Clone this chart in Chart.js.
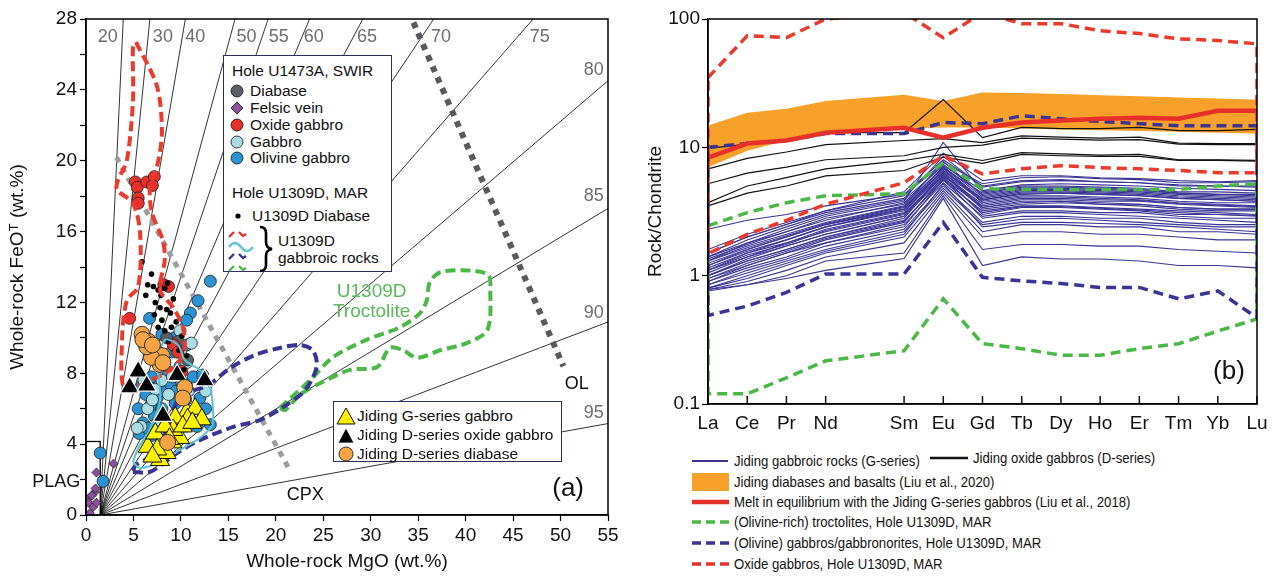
<!DOCTYPE html>
<html>
<head>
<meta charset="utf-8">
<script src="https://cdn.jsdelivr.net/npm/chart.js@4.4.1/dist/chart.umd.min.js"></script>
<style>
body { margin: 0; background: #fff; font-family: "Liberation Sans", Arial, sans-serif; }
#wrap { position: relative; width: 1278px; height: 577px; overflow: hidden; }
#left { position: absolute; left: 0; top: 0; width: 640px; height: 577px; }
#right { position: absolute; left: 640px; top: 0; width: 638px; height: 445px; }
.box { position: absolute; background: #fff; border: 1.5px solid #2d2d5a; box-sizing: border-box; }
.t { position: absolute; white-space: nowrap; line-height: 18px; font-size: 15.5px; color: #111; }
.lg { position: absolute; white-space: nowrap; line-height: 18px; font-size: 14px; color: #111; transform: scaleX(0.94); transform-origin: left center; }
svg { position: absolute; overflow: visible; }
</style>
</head>
<body>
<div id="wrap">
  <div id="left"><canvas id="chartA"></canvas></div>
  <div id="right"><canvas id="chartB"></canvas></div>

  <!-- legend box, panel (a) upper -->
  <div class="box" style="left:223px;top:55px;width:169px;height:217px;">
    <svg width="60" height="217" style="left:0;top:0">
      <circle cx="13" cy="35" r="6" fill="#5d5e62" stroke="#111" stroke-width="0.8"/>
      <polygon points="13,46 19,52 13,58 7,52" fill="#8e4f9f" stroke="#111" stroke-width="0.8"/>
      <circle cx="13" cy="69" r="6" fill="#e8302a" stroke="#111" stroke-width="0.8"/>
      <circle cx="13" cy="86" r="6" fill="#a9dde3" stroke="#111" stroke-width="0.8"/>
      <circle cx="13" cy="102" r="6" fill="#2b93d3" stroke="#111" stroke-width="0.8"/>
      <circle cx="14" cy="160" r="2.6" fill="#000"/>
      <path d="M5,181 L10,176 M15,176 L19,180 L22,178" stroke="#e8302a" stroke-width="2.4" fill="none"/>
      <path d="M5,191 q6,-8 12,0 t12,0" stroke="#6cc6d4" stroke-width="2.6" fill="none"/>
      <path d="M5,203 L10,198 M15,198 L19,202 L22,200" stroke="#3a3594" stroke-width="2.4" fill="none"/>
      <path d="M5,215 L10,210 M15,210 L19,214 L22,212" stroke="#4cb848" stroke-width="2.4" fill="none"/>
      <path d="M36,171 q6,0 6,6 v9 q0,6 6,7 q-6,1 -6,7 v9 q0,6 -6,6" stroke="#000" stroke-width="2.6" fill="none"/>
    </svg>
    <div class="t" style="left:8px;top:6px">Hole U1473A, SWIR</div>
    <div class="t" style="left:26px;top:26px">Diabase</div>
    <div class="t" style="left:26px;top:43px">Felsic vein</div>
    <div class="t" style="left:26px;top:60px">Oxide gabbro</div>
    <div class="t" style="left:26px;top:77px">Gabbro</div>
    <div class="t" style="left:26px;top:93px">Olivine gabbro</div>
    <div class="t" style="left:8px;top:128px">Hole U1309D, MAR</div>
    <div class="t" style="left:28px;top:151px">U1309D Diabase</div>
    <div class="t" style="left:54px;top:176px">U1309D</div>
    <div class="t" style="left:54px;top:193px">gabbroic rocks</div>
  </div>

  <!-- legend box, panel (a) lower -->
  <div class="box" style="left:333px;top:401px;width:229px;height:61px;">
    <svg width="30" height="61" style="left:0;top:0">
      <polygon points="12,6 3,22 21,22" fill="#fff200" stroke="#111" stroke-width="1"/>
      <polygon points="12,26 4,41 20,41" fill="#000" stroke="#fff" stroke-width="0.8"/>
      <circle cx="12" cy="52" r="7" fill="#f6a443" stroke="#333" stroke-width="1"/>
    </svg>
    <div class="t" style="left:23px;top:5px">Jiding G-series gabbro</div>
    <div class="t" style="left:23px;top:24px">Jiding D-series oxide gabbro</div>
    <div class="t" style="left:23px;top:43px">Jiding D-series diabase</div>
  </div>

  <!-- legend, panel (b) -->
  <svg width="300" height="130" style="left:688px;top:447px">
    <line x1="4" y1="14" x2="40" y2="14" stroke="#3a3594" stroke-width="2"/>
    <line x1="242" y1="11" x2="280" y2="11" stroke="#111" stroke-width="2.5"/>
    <rect x="4" y="26" width="37" height="18" fill="#f7a12a"/>
    <line x1="4" y1="55" x2="41" y2="55" stroke="#e8302a" stroke-width="4.5"/>
    <line x1="4" y1="75" x2="41" y2="75" stroke="#4cb848" stroke-width="3.5" stroke-dasharray="9,5"/>
    <line x1="4" y1="96" x2="41" y2="96" stroke="#3a3594" stroke-width="3.5" stroke-dasharray="9,5"/>
    <line x1="4" y1="117" x2="41" y2="117" stroke="#e8302a" stroke-width="3.5" stroke-dasharray="9,5"/>
  </svg>
  <div class="lg" style="left:734px;top:452px">Jiding gabbroic rocks (G-series)</div>
  <div class="lg" style="left:973px;top:449px">Jiding oxide gabbros (D-series)</div>
  <div class="lg" style="left:734px;top:473px">Jiding diabases and basalts (Liu et al., 2020)</div>
  <div class="lg" style="left:734px;top:493px">Melt in equilibrium with the Jiding G-series gabbros (Liu et al., 2018)</div>
  <div class="lg" style="left:734px;top:513px">(Olivine-rich) troctolites, Hole U1309D, MAR</div>
  <div class="lg" style="left:734px;top:534px">(Olivine) gabbros/gabbronorites, Hole U1309D, MAR</div>
  <div class="lg" style="left:734px;top:555px">Oxide gabbros, Hole U1309D, MAR</div>
</div>

<script>
// ---------- panel (a): FeOT vs MgO ----------
const mgNumbers = [20, 30, 40, 50, 55, 60, 65, 70, 75, 80, 85, 90, 95];

const olGabbroU1473 = [[1.5,3.5],[1.8,1.9],[13.1,13.2],[11.8,12.1],[11.0,11.4],[10.6,11.0],[6.7,11.1],[8.0,10.2],
  [9.3,10.0],[10.6,9.6],[9.0,9.2],[5.9,7.3],[6.3,6.8],[6.8,6.2],[5.5,6.0],[6.0,5.2],[5.6,4.6],[6.5,4.9],[7.2,5.6],
  [7.5,6.6],[8.2,7.0],[8.9,7.4],[9.5,7.0],[10.0,7.6],[10.6,7.3],[11.3,7.8],[12.3,7.9],[12.0,6.6],[12.6,6.0],
  [13.1,5.1],[11.7,5.0],[7.4,7.4],[6.9,7.8],[8.6,8.1],[9.9,8.4],[8.0,6.0],[7.0,4.5],[9.4,6.3],[10.5,6.5],[8.4,5.3]];
const gabbroU1473 = [[5.8,5.0],[6.5,6.0],[7.3,7.1],[8.0,7.6],[8.7,6.8],[9.1,7.8],[7.6,5.3],[10.6,8.6],[9.9,10.4],
  [11.1,9.7],[12.6,7.0],[6.1,7.6],[7.0,6.5],[8.4,4.4],[5.4,4.9],[10.8,7.0],[9.6,9.2]];
const diabaseU1473 = [[9.7,9.8],[10.7,8.75],[8.5,10.0]];
const oxideU1473 = [[5.2,18.8],[5.4,18.5],[6.4,18.8],[5.5,17.9],[5.5,17.6],[7.2,19.1],[7.0,18.6],[8.2,13.0],
  [8.7,12.9],[4.6,11.1],[10.1,8.1],[9.2,9.6],[9.7,9.2]];
const felsicU1473 = [[0.3,0.95],[1.1,2.4],[2.9,2.9],[0.95,1.3],[0.4,0.1],[0.25,0.7],[0.75,0.45],[1.1,0.7],[0.6,1.1],[1.0,1.5]];
const diabaseU1309 = [[5.9,14.3],[6.5,13.0],[7.1,12.9],[7.6,12.7],[7.9,12.4],[8.3,12.8],[7.3,12.0],[7.8,11.7],
  [8.5,11.6],[8.0,11.0],[8.9,11.4],[7.6,10.6],[8.3,10.4],[9.0,10.6],[9.5,10.9],[8.7,9.8],[7.0,10.0],[9.8,9.3],
  [10.6,9.0],[10.3,8.2],[7.4,9.1],[6.9,13.6],[8.6,13.1],[9.2,12.2],[6.3,12.4],[7.2,11.3],[10.1,10.1]];
const jidingG = [[6.5,3.85],[7.8,3.1],[8.1,3.8],[9.1,4.1],[9.7,5.0],[10.6,5.8],[11.5,6.0],[12.2,5.4],[9.9,4.35],
  [9.4,5.5],[8.5,3.5],[7.3,4.6],[9.2,4.8],[10.7,5.4],[10.2,5.0],[11.2,5.2],[8.3,5.0],[7.5,3.7],[7.0,3.3],[8.8,4.3]];
const jidingDoxide = [[5.5,8.1],[4.6,7.2],[6.4,7.3],[8.1,5.6],[9.6,7.9],[12.5,7.6]];
const jidingDdiabase = [[5.9,10.2],[6.6,9.8],[7.3,9.2],[8.0,9.0],[7.8,8.5],[6.9,8.9],[6.4,9.5],[6.0,9.9],
  [7.0,9.6],[8.1,8.6],[10.4,7.2],[10.2,6.6],[8.6,4.1]];

// U1309D fields (outlines)
const oxideField = [[5.27,26.7],[7.48,24.2],[8.0,21.6],[7.48,19.65],[6.74,18.5],[6.95,17.05],[8.1,15.5],[8.3,14.4],
  [7.8,12.7],[9.2,11.7],[10.2,10.6],[10.4,9.5],[9.9,8.75],[8.6,8.1],[6.74,7.6],[4.1,7.06],[3.8,9.9],[4.3,12.1],
  [5.5,12.9],[5.7,15.9],[4.95,17.6],[3.27,18.35],[3.37,18.9],[4.3,20.0],[4.95,23.4],[4.95,26.4],[5.27,26.7]];
const gabbroField = [[4.95,2.99],[5.69,2.65],[7.8,2.99],[9.9,3.67],[12.0,4.35],[13.3,5.08],[13.3,6.49],[12.9,7.62],
  [12.0,8.19],[10.4,8.75],[9.7,9.6],[8.3,9.88],[7.6,8.47],[7.8,6.49],[6.7,4.8],[5.5,3.78],[4.95,2.99]];
const olGabbroField = [[4.95,2.43],[6.74,2.43],[9.6,3.5],[12.0,4.23],[15.5,4.97],[18.3,5.36],[20.8,6.1],[23.1,7.06],
  [24.3,8.36],[23.9,9.3],[22.5,9.6],[20.4,9.43],[17.8,9.03],[15.2,8.3],[12.9,7.34],[11.0,6.95],[9.7,6.5],[8.85,5.36],
  [7.8,3.95],[6.2,3.1],[5.2,2.8],[4.95,2.43]];
const troctField = [[20.4,6.04],[23.6,7.6],[26.0,8.9],[29.6,9.9],[33.1,10.6],[35.2,11.4],[35.9,12.1],[36.2,13.1],
  [37.3,13.7],[40.5,13.8],[42.4,13.55],[42.6,12.7],[42.3,10.45],[40.1,9.7],[37.3,9.3],[34.9,8.87],[33.4,9.3],
  [32.0,9.43],[30.7,8.36],[27.8,8.19],[24.7,7.45],[22.5,6.78],[21.0,5.93],[20.4,6.04]];
const cpxTrend = [[3.2,20.2],[21.5,2.5]];
const olTrend = [[34.5,27.8],[50.3,8.4]];

// ---------- panel (b): REE ----------
const ree = ['La','Ce','Pr','Nd','Sm','Eu','Gd','Tb','Dy','Ho','Er','Tm','Yb','Lu'];
const reePos = [0, 1, 2, 3, 5, 6, 7, 8, 9, 10, 11, 12, 13, 14];

const gSeries = [
  [2.3,2.7,3.0,3.5,4.3,8.0,5.0,5.5,5.6,5.4,5.3,5.1,5.0,5.0],
  [1.6,2.1,2.6,3.2,4.2,7.6,5.2,5.8,5.9,5.7,5.6,5.3,5.3,5.4],
  [1.5,2.0,2.5,3.1,4.0,8.5,4.9,5.4,5.5,5.4,5.3,5.0,5.0,4.9],
  [1.4,1.9,2.4,3.0,3.9,7.2,4.6,5.1,5.2,5.1,5.0,4.8,4.7,4.6],
  [1.4,1.8,2.3,2.9,3.8,10.9,4.5,5.0,5.0,4.9,4.8,4.5,4.5,4.4],
  [1.3,1.8,2.2,2.8,3.6,6.9,4.4,4.9,4.9,4.8,4.7,4.4,4.3,4.3],
  [1.3,1.7,2.1,2.6,3.5,7.8,4.2,4.7,4.7,4.6,4.5,4.3,4.2,4.1],
  [1.25,1.6,2.0,2.5,3.4,6.6,4.0,4.5,4.5,4.4,4.3,4.1,4.0,3.9],
  [1.2,1.6,2.0,2.5,3.3,7.0,3.9,4.3,4.4,4.3,4.2,4.0,3.9,3.8],
  [1.15,1.5,1.9,2.4,3.2,6.3,3.8,4.2,4.2,4.1,4.0,3.8,3.7,3.7],
  [1.1,1.5,1.8,2.3,3.1,6.8,3.7,4.1,4.1,4.0,3.9,3.7,3.6,3.5],
  [1.1,1.4,1.8,2.2,3.0,6.0,3.5,3.9,3.9,3.8,3.8,3.6,3.5,3.4],
  [1.05,1.4,1.7,2.1,2.9,5.8,3.4,3.8,3.8,3.7,3.6,3.4,3.3,3.3],
  [1.0,1.3,1.6,2.0,2.8,6.2,3.3,3.6,3.7,3.6,3.5,3.3,3.2,3.2],
  [1.0,1.3,1.6,2.0,2.7,5.5,3.2,3.5,3.5,3.4,3.3,3.2,3.1,3.0],
  [0.95,1.2,1.5,1.9,2.6,5.9,3.0,3.4,3.4,3.3,3.2,3.0,3.0,2.9],
  [0.9,1.2,1.5,1.8,2.5,5.3,2.9,3.2,3.2,3.1,3.1,2.9,2.8,2.8],
  [0.9,1.15,1.4,1.8,2.4,5.6,2.8,3.1,3.1,3.0,2.9,2.8,2.7,2.6],
  [0.85,1.1,1.35,1.7,2.3,5.0,2.6,2.9,2.9,2.8,2.8,2.6,2.5,2.5],
  [0.85,1.05,1.3,1.6,2.2,4.8,2.5,2.75,2.8,2.7,2.6,2.5,2.4,2.4],
  [0.8,1.0,1.25,1.55,2.1,5.2,2.4,2.6,2.6,2.55,2.5,2.4,2.3,2.2],
  [0.8,0.95,1.2,1.5,2.0,4.6,2.2,2.5,2.5,2.4,2.4,2.2,2.2,2.1],
  [0.78,0.9,1.1,1.4,1.8,4.4,2.0,2.2,2.2,2.1,2.1,2.0,1.9,1.9],
  [0.76,0.85,1.0,1.3,1.5,4.2,1.6,1.75,1.75,1.7,1.7,1.6,1.55,1.5],
  [0.78,0.85,0.95,1.1,1.36,4.0,1.2,1.4,1.35,1.35,1.3,1.2,1.2,1.15],
  [1.5,2.0,2.5,3.2,4.5,9.0,5.5,6.0,6.0,5.8,5.7,5.5,5.4,5.5],
  [1.35,1.75,2.2,2.7,3.7,7.4,4.3,4.8,4.8,4.7,4.6,4.4,4.3,4.2],
  [1.2,1.55,1.9,2.4,3.3,6.5,3.9,4.4,4.4,4.3,4.2,4.0,3.9,3.8],
  [1.0,1.35,1.7,2.1,2.9,6.4,3.4,3.7,3.8,3.6,3.6,3.4,3.3,3.3],
  [1.3,1.65,2.05,2.55,3.45,7.1,4.1,4.6,4.6,4.5,4.4,4.2,4.1,4.0],
  [1.1,1.45,1.75,2.25,3.05,6.1,3.6,4.0,4.0,3.9,3.85,3.65,3.55,3.45],
  [0.95,1.25,1.55,1.95,2.65,5.7,3.1,3.45,3.45,3.35,3.25,3.1,3.0,2.95]
];
const dSeries = [
  [9.8,10.6,11.3,13.0,13.0,23.6,11.9,14.3,14.0,14.0,14.3,13.5,13.5,13.8],
  [6.8,8.2,9.2,10.5,11.3,11.7,10.9,12.3,12.0,11.8,12.0,10.8,10.7,10.7],
  [5.2,6.3,7.0,8.0,8.6,10.0,10.4,11.8,11.6,11.4,11.5,10.6,10.5,10.5],
  [3.7,5.0,5.8,6.8,7.9,8.8,7.9,9.1,8.9,8.7,8.8,8.0,8.0,7.9],
  [3.5,4.4,5.0,6.0,6.6,8.4,7.5,8.8,8.6,8.5,8.5,7.9,7.9,7.8]
];
const diabaseUpper = [14.8,18.6,20.0,23.0,25.7,23.0,26.7,26.5,26.0,25.5,25.0,24.5,24.0,23.5];
const diabaseLower = [7.0,9.4,11.3,13.0,14.0,14.3,14.3,14.0,13.8,13.6,13.4,13.2,13.0,12.8];
const meltG = [8.3,10.7,11.3,13.0,14.2,11.9,14.2,15.6,16.2,16.7,17.0,16.7,19.3,19.3];
const oxU1309Upper = [34.9,74,71.6,100,112,71.6,112,92,92,81,77,70,68,64];
const oxU1309Lower = [1.48,2.1,2.7,3.6,5.3,8.6,6.2,6.8,7.2,6.95,6.8,6.6,6.35,6.35];
const olgU1309Upper = [10,10.7,11.3,12.8,12.8,15.6,15.3,17.6,16.7,15.9,15.3,14.7,14.7,14.7];
const olgU1309Lower = [0.49,0.58,0.74,1.03,1.03,2.6,0.97,0.91,0.87,0.81,0.81,0.66,0.76,0.47];
const troU1309Upper = [2.45,3.1,3.7,4.2,4.35,7.6,4.76,4.7,4.7,4.7,4.7,4.7,5.0,5.2];
const troU1309Lower = [0.12,0.12,0.16,0.217,0.26,0.66,0.295,0.27,0.24,0.24,0.27,0.295,0.37,0.46];

// ---------- helpers ----------
const FONT = '"Liberation Sans", Arial, sans-serif';
Chart.defaults.font.family = FONT;
Chart.defaults.color = '#111';
Chart.defaults.animation = false;

const xy = a => a.map(p => ({x: p[0], y: p[1]}));
const reeXY = vals => vals.map((v, i) => ({x: reePos[i], y: v}));
const envelope = (up, lo) => {
  const u = reeXY(up);
  return [...u, ...reeXY(lo).reverse(), u[0]];
};

function mgLine(m) {
  // FeO/MgO ratio (wt%) for a given Mg#
  const k = (71.85 / 40.3) * (100 - m) / m;
  const end = k * 55 > 28 ? {x: 28 / k, y: 28} : {x: 55, y: 55 * k};
  return [{x: 1.5, y: 0}, end];
}

const frame = {
  id: 'frame',
  afterDatasetsDraw(chart) {
    const a = chart.chartArea, ctx = chart.ctx;
    ctx.save();
    ctx.strokeStyle = '#000';
    ctx.lineWidth = 1.5;
    ctx.strokeRect(a.left, a.top, a.right - a.left, a.bottom - a.top);
    ctx.restore();
  }
};

function label(ctx, x, y, text, size, color, align) {
  ctx.font = size + 'px ' + FONT;
  ctx.fillStyle = color;
  ctx.textAlign = align || 'center';
  ctx.textBaseline = 'middle';
  ctx.fillText(text, x, y);
}

// label anchors for panel (a), data units
const mgLabelAt = [[2.3,27],[8.1,27],[11.5,27],[16.9,27],[20.3,27],[24.0,27],[29.6,27],[37.4,27],[47.8,27],
  [53.5,25.1],[53.5,18.0],[53.5,11.4],[53.5,5.76]];

const panelA = {
  id: 'panelA',
  beforeDatasetsDraw(chart) {
    const {ctx, scales: {x, y}} = chart;
    ctx.save();
    const x0 = x.getPixelForValue(0), x1 = x.getPixelForValue(1.5);
    const y0 = y.getPixelForValue(0), y1 = y.getPixelForValue(4.15);
    ctx.fillStyle = '#fff';
    ctx.fillRect(x0, y1, x1 - x0, y0 - y1);
    ctx.strokeStyle = '#000';
    ctx.lineWidth = 1.3;
    ctx.strokeRect(x0, y1, x1 - x0, y0 - y1);
    ctx.restore();
  },
  afterDatasetsDraw(chart) {
    const {ctx, scales: {x, y}} = chart;
    ctx.save();
    mgNumbers.forEach((m, i) => {
      label(ctx, x.getPixelForValue(mgLabelAt[i][0]), y.getPixelForValue(mgLabelAt[i][1]), String(m), 18, '#6d6e71');
    });
    label(ctx, x.getPixelForValue(23.1), y.getPixelForValue(1.13), 'CPX', 18, '#111');
    label(ctx, x.getPixelForValue(51.7), y.getPixelForValue(7.4), 'OL', 18, '#111');
    label(ctx, x.getPixelForValue(30.1), y.getPixelForValue(12.6), 'U1309D', 19, '#5cb85c');
    label(ctx, x.getPixelForValue(30.1), y.getPixelForValue(11.46), 'Troctolite', 19, '#5cb85c');
    label(ctx, x.getPixelForValue(50.8), y.getPixelForValue(1.45), '(a)', 26, '#111');
    label(ctx, x.getPixelForValue(-0.6), y.getPixelForValue(1.86), 'PLAG', 18, '#111', 'right');
    ctx.restore();
  }
};

const panelB = {
  id: 'panelB',
  afterDatasetsDraw(chart) {
    const {ctx, chartArea: a, scales: {x}} = chart;
    ctx.save();
    ctx.strokeStyle = '#111';
    ctx.lineWidth = 1.5;
    reePos.forEach(p => {
      const px = x.getPixelForValue(p);
      ctx.beginPath();
      ctx.moveTo(px, a.bottom);
      ctx.lineTo(px, a.bottom - 8);
      ctx.stroke();
    });
    label(ctx, a.right - 28, a.bottom - 32, '(b)', 26, '#111');
    ctx.restore();
  }
};

// ---------- chart (a) ----------
const dsA = [];
const pts = (data, style, r, bg, bc, bw, order) => dsA.push({
  data: xy(data), pointStyle: style, pointRadius: r, backgroundColor: bg,
  borderColor: bc, borderWidth: bw, order: order
});
pts(jidingDdiabase, 'circle', 8, '#f6a443', '#333', 1, 0);
pts(jidingDoxide, 'triangle', 11, '#000', '#fff', 1.2, 1);
pts(jidingG, 'triangle', 11, '#fff200', '#111', 1, 2);
pts(diabaseU1309, 'circle', 2.8, '#000', '#000', 0, 4);
pts(oxideU1473, 'circle', 6, '#e8302a', '#222', 0.8, 4);
pts(diabaseU1473, 'circle', 6, '#5d5e62', '#222', 0.8, 4);
pts(felsicU1473, 'rectRot', 4.5, '#8e4f9f', '#222', 0.8, 4);
pts(gabbroU1473, 'circle', 6, '#a9dde3', '#222', 0.8, 5);
pts(olGabbroU1473, 'circle', 6, '#2b93d3', '#222', 0.8, 5);

const outline = (data, color, dash, w, order) => dsA.push({
  data: xy(data), showLine: true, pointRadius: 0, borderColor: color, borderWidth: w,
  borderDash: dash, tension: 0.3, order: order
});
outline(gabbroField, '#5cc3d3', [], 2, 3);
outline(oxideField, '#ec3a2c', [10, 5], 4, 3);
outline(olGabbroField, '#3a3594', [10, 5], 4, 3);
outline(troctField, '#4cb848', [10, 5], 4, 3);
outline(cpxTrend, '#9d9d9d', [6, 6], 5, 6);
outline(olTrend, '#5a5a5e', [6, 6], 6, 6);

mgNumbers.forEach(m => dsA.push({
  data: mgLine(m), showLine: true, pointRadius: 0, borderColor: '#000', borderWidth: 0.8, order: 10
}));

new Chart(document.getElementById('chartA'), {
  type: 'scatter',
  data: {datasets: dsA},
  options: {
    responsive: true, maintainAspectRatio: false, events: [],
    layout: {padding: {left: 0, right: 32, top: 19, bottom: 0}},
    plugins: {legend: {display: false}, tooltip: {enabled: false}},
    scales: {
      x: {
        type: 'linear', min: 0, max: 55,
        ticks: {stepSize: 5, font: {size: 19}, padding: 3, maxRotation: 0, color: '#111'},
        grid: {drawOnChartArea: false, color: '#000', tickLength: 6, tickWidth: 1.2},
        border: {color: '#000', width: 1.5},
        title: {display: true, text: 'Whole-rock MgO (wt.%)', font: {size: 19}, color: '#111', padding: {top: 0, bottom: 4}},
        afterFit: s => { s.height = 62; }
      },
      y: {
        type: 'linear', min: 0, max: 28,
        ticks: {stepSize: 2, font: {size: 19}, padding: 3, color: '#111', callback: v => (v % 4 === 0 ? v : '')},
        grid: {drawOnChartArea: false, color: '#000', tickLength: 6, tickWidth: 1.2},
        border: {color: '#000', width: 1.5},
        title: {display: true, text: 'Whole-rock FeOᵀ (wt.%)', font: {size: 19}, color: '#111', padding: {top: 6, bottom: 0}},
        afterFit: s => { s.width = 86; }
      }
    }
  },
  plugins: [panelA, frame]
});

// ---------- chart (b) ----------
const dsB = [];
const line = (data, color, w, dash, order, extra) => dsB.push(Object.assign({
  data: data, showLine: true, pointRadius: 0, borderColor: color, borderWidth: w,
  borderDash: dash, order: order
}, extra || {}));

line(envelope(oxU1309Upper, oxU1309Lower), '#ec3a2c', 3.5, [10, 6], 1);
line(reeXY(meltG), '#e8302a', 4.5, [], 2);
line(envelope(olgU1309Upper, olgU1309Lower), '#3a3594', 3.5, [10, 6], 3);
line(envelope(troU1309Upper, troU1309Lower), '#4cb848', 3.5, [10, 6], 4);
dSeries.forEach(s => line(reeXY(s), '#111', 1.2, [], 5));
gSeries.forEach(s => line(reeXY(s), '#3a3594', 1.1, [], 6));
line(reeXY(diabaseUpper), 'rgba(0,0,0,0)', 0, [], 7, {fill: '+1', backgroundColor: '#f7a12a'});
line(reeXY(diabaseLower), 'rgba(0,0,0,0)', 0, [], 7);

new Chart(document.getElementById('chartB'), {
  type: 'scatter',
  data: {datasets: dsB},
  options: {
    responsive: true, maintainAspectRatio: false, events: [],
    layout: {padding: {left: 0, right: 21, top: 19, bottom: 0}},
    plugins: {legend: {display: false}, tooltip: {enabled: false}},
    scales: {
      x: {
        type: 'linear', min: 0, max: 14,
        afterBuildTicks: s => { s.ticks = reePos.map(v => ({value: v})); },
        ticks: {font: {size: 19}, padding: 8, autoSkip: false, maxRotation: 0, color: '#111',
                callback: v => ree[reePos.indexOf(v)]},
        grid: {drawOnChartArea: false, drawTicks: false},
        border: {color: '#000', width: 1.5},
        afterFit: s => { s.height = 41; }
      },
      y: {
        type: 'logarithmic', min: 0.1, max: 100,
        afterBuildTicks: s => { s.ticks = [0.1, 1, 10, 100].map(v => ({value: v})); },
        ticks: {font: {size: 19}, padding: 2, color: '#111', callback: v => String(v)},
        grid: {drawOnChartArea: false, color: '#000', tickLength: 6, tickWidth: 1.2},
        border: {color: '#000', width: 1.5},
        title: {display: true, text: 'Rock/Chondrite', font: {size: 19}, color: '#111', padding: {top: 4, bottom: 0}},
        afterFit: s => { s.width = 68; }
      }
    }
  },
  plugins: [panelB, frame]
});
</script>
</body>
</html>
